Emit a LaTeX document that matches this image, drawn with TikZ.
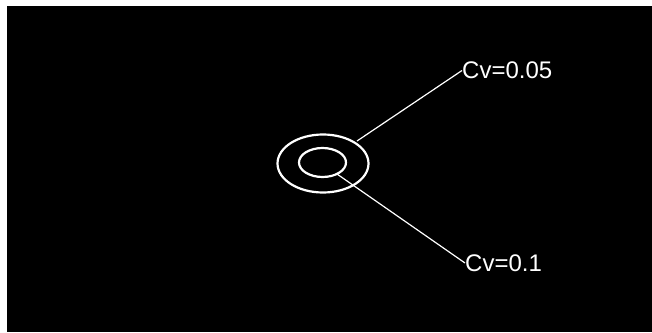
\documentclass[tikz,border=0pt]{standalone}
\usepackage{fontspec}
\setmainfont{Liberation Sans}
\begin{document}
\begin{tikzpicture}[x=1pt,y=-1pt,
  ring/.style={draw=white,line width=2.2pt},
  leader/.style={draw=white,line width=1.2pt},
  lbl/.style={text=white,font=\fontsize{24}{26}\selectfont,inner sep=0pt,anchor=west}]
  % paper and dark field
  \fill[white] (0,0) rectangle (652,332);
  \fill[black] (7,6) rectangle (652,332);
  \useasboundingbox (0,0) rectangle (652,332);
  % contour rings
  \draw[ring] (323,163.5) ellipse [x radius=45.5, y radius=29];
  \draw[ring] (322.5,162.5) ellipse [x radius=23.5, y radius=14.5];
  % labels
  \node[lbl] (c05) at (462,70.5) {Cv=0.05};
  \node[lbl] (c01) at (465,263) {Cv=0.1};
  \coordinate (p05) at (357,141);
  \coordinate (p01) at (337,174);
  \draw[leader] (p05) -- (c05.west);
  \draw[leader] (p01) -- (c01.west);
\end{tikzpicture}
\end{document}
